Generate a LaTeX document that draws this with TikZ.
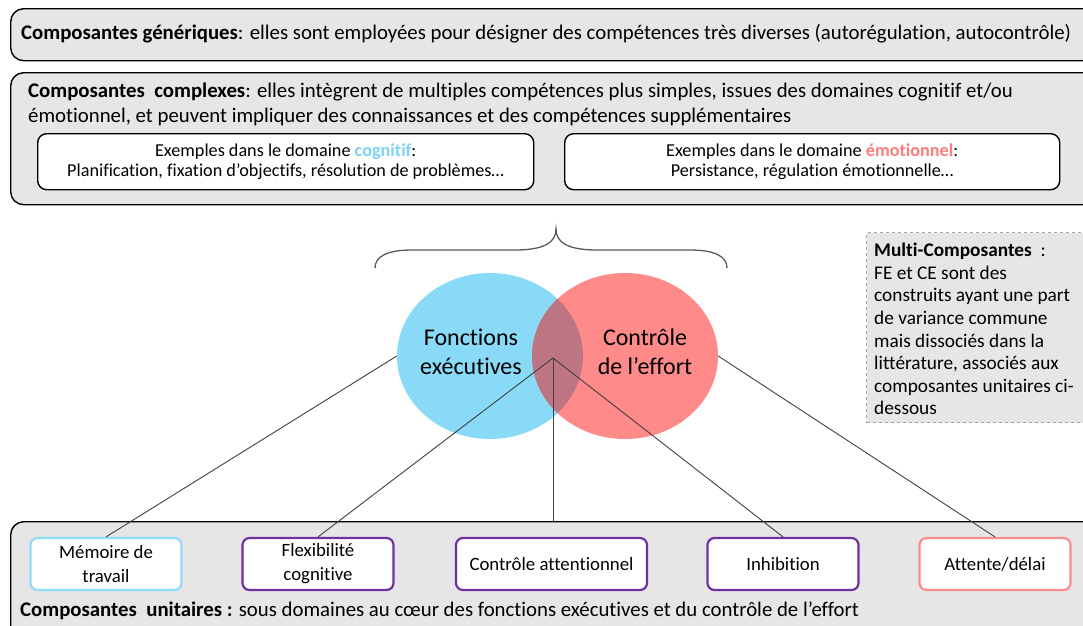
\documentclass[tikz,border=0pt]{standalone}
\usepackage{fontspec}
\setmainfont{Carlito}[Ligatures=NoCommon]
\usetikzlibrary{shapes.geometric}
\definecolor{boxgray}{HTML}{E7E6E6}
\definecolor{feblue}{HTML}{89DAF6}
\definecolor{cered}{HTML}{FF8A8A}
\definecolor{overlap}{HTML}{BE7583}
\definecolor{cogblue}{HTML}{7DD3F5}
\definecolor{emored}{HTML}{FF7C7C}
\definecolor{purp}{HTML}{7030A0}
\definecolor{lblue}{HTML}{8FDCF6}
\definecolor{lred}{HTML}{FF8C8C}
\definecolor{dashgray}{HTML}{A6A6A6}
\definecolor{linegray}{HTML}{404040}
\tikzset{
  bigbox/.style={draw=black, line width=1.4pt, fill=boxgray, rounded corners=13pt, anchor=north west, inner sep=0pt},
  inbox/.style={draw=black, line width=1.4pt, fill=white, rounded corners=9pt, anchor=north west, inner sep=0pt},
  unitbox/.style={fill=white, rounded corners=7pt, line width=2.2pt, minimum width=151pt, minimum height=52pt, align=center, inner sep=0pt, font=\fontsize{18.8}{24}\selectfont},
  bigtxt/.style={font=\fontsize{20.8}{26}\selectfont, anchor=west, inner sep=0pt},
  smalltxt/.style={font=\fontsize{18.2}{20.5}\selectfont, align=center, inner sep=0pt},
  venn/.style={ellipse, inner sep=0pt, minimum width=186pt, minimum height=166pt},
  vtxt/.style={font=\fontsize{24}{29}\selectfont, align=center, inner sep=0pt},
  conn/.style={draw=linegray, line width=0.9pt},
}
\begin{document}
\begin{tikzpicture}[x=1pt,y=-1pt]
\useasboundingbox (0,0) rectangle (1083,625);
% generic box
\node[bigbox, minimum width=1085pt, minimum height=52pt] (gen) at (10,8) {};
\node[bigtxt] (gentxt) at (21,34) {\textbf{Composantes génériques}: elles sont employées pour désigner des compétences très diverses (autorégulation, autocontrôle)};
% complex box
\node[bigbox, minimum width=1085pt, minimum height=132pt] (cplx) at (10,72) {};
\node[bigtxt] (cplx1) at (28,92) {\textbf{Composantes\ \ complexes}: elles intègrent de multiples compétences plus simples, issues des domaines cognitif et/ou};
\node[bigtxt] (cplx2) at (28,117) {émotionnel, et peuvent impliquer des connaissances et des compétences supplémentaires};
\node[inbox, minimum width=496pt, minimum height=56pt] (cog) at (37,133) {};
\node[smalltxt] (cogtxt) at (cog.center) {Exemples dans le domaine \textcolor{cogblue}{\textbf{cognitif}}:\\Planification, fixation d’objectifs, résolution de problèmes…};
\node[inbox, minimum width=495pt, minimum height=56pt] (emo) at (564,133) {};
\node[smalltxt] (emotxt) at (emo.center) {Exemples dans le domaine \textcolor{emored}{\textbf{émotionnel}}:\\Persistance, régulation émotionnelle…};
% brace
\draw[draw=black!65, line width=1.3pt] (375,268) .. controls (375,256) and (388,250) .. (412,250) -- (515,250) .. controls (545,250) and (556,242) .. (556,229) .. controls (556,242) and (567,250) .. (597,250) -- (690,250) .. controls (714,250) and (727,256) .. (727,268);
% venn
\node[venn, fill=feblue] (fe) at (490,356) {};
\node[venn, fill=cered] (ce) at (625,356) {};
\begin{scope}
  \clip (490,356) ellipse [x radius=93pt, y radius=83pt];
  \fill[overlap] (625,356) ellipse [x radius=93pt, y radius=83pt];
\end{scope}
\node[vtxt] (fetxt) at (471,352) {Fonctions\\exécutives};
\node[vtxt] (cetxt) at (645,352) {Contrôle\\de l’effort};
% multi box
\node[draw=dashgray, dashed, line width=1.4pt, fill=boxgray, anchor=north west, minimum width=225pt, minimum height=190pt] (multi) at (866,232) {};
\node[anchor=north west, inner sep=0pt, align=left, font=\fontsize{19.3}{22.6}\selectfont] (multitxt) at (874,243) {\textbf{Multi-Composantes}\ \ :\\FE et CE sont des\\construits ayant une part\\de variance commune\\mais dissociés dans la\\littérature, associés aux\\composantes unitaires ci-\\dessous};
% unit box
\node[bigbox, minimum width=1085pt, minimum height=120pt] (unit) at (10,521) {};
\node[unitbox, draw=lblue] (mem) at (106,564) {Mémoire de\\travail};
\node[unitbox, draw=purp] (flex) at (318,564) {Flexibilité\\cognitive};
\node[unitbox, draw=purp, minimum width=191pt] (att) at (551.5,564) {Contrôle attentionnel};
\node[unitbox, draw=purp] (inh) at (783,564) {Inhibition};
\node[unitbox, draw=lred] (del) at (995,564) {Attente/délai};
\node[bigtxt] (unittxt) at (20,611) {\textbf{Composantes\ \ unitaires :} sous domaines au cœur des fonctions exécutives et du contrôle de l’effort};
% connectors
\coordinate (j) at (553,358);
\draw[conn] (fe.west) -- (mem.north);
\draw[conn] (ce.east) -- (del.north);
\draw[conn] (j) -- (flex.north);
\draw[conn] (j) -- (inh.north);
\draw[conn] (j) -- (j |- unit.north);
\end{tikzpicture}
\end{document}
